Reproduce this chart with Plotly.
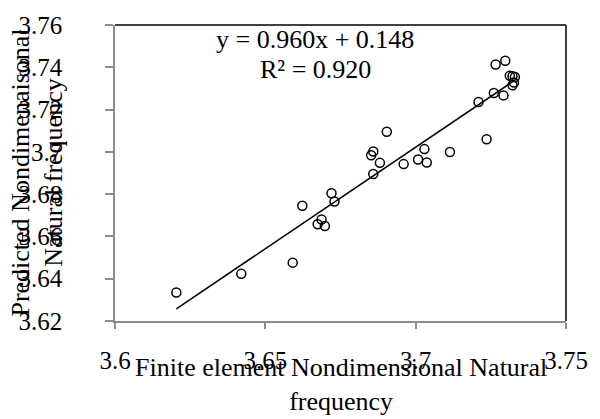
import numpy as np
import plotly.graph_objects as go

x_fe = [3.6204, 3.6420, 3.6591, 3.6623, 3.6674, 3.6687, 3.6698, 3.6720, 3.6730, 3.6852,
        3.6859, 3.6859, 3.6881, 3.6904, 3.6960, 3.7008, 3.7029, 3.7037, 3.7114, 3.7209,
        3.7236, 3.7260, 3.7266, 3.7298, 3.7292, 3.7313, 3.7322, 3.7330, 3.7322, 3.7327]
y_pred = [3.6335, 3.6423, 3.6476, 3.6745, 3.6658, 3.6680, 3.6649, 3.6804, 3.6765, 3.6984,
          3.7002, 3.6895, 3.6948, 3.7095, 3.6942, 3.6964, 3.7013, 3.6950, 3.6999, 3.7236,
          3.7060, 3.7278, 3.7413, 3.7431, 3.7267, 3.7360, 3.7358, 3.7354, 3.7315, 3.7328]

x_tickvals = [3.6, 3.65, 3.7, 3.75]
x_ticktext = ["3.6", "3.65", "3.7", "3.75"]
y_tickvals = [3.62, 3.64, 3.66, 3.68, 3.70, 3.72, 3.74, 3.76]
y_ticktext = ["3.62", "3.64", "3.66", "3.68", "3.7", "3.72", "3.74", "3.76"]

eq_text = "y = 0.960x + 0.148"
r2_text = "R² = 0.920"
x_title = "Finite element Nondimensional Natural<br>frequency"
y_title = "Predicted Nondimenaisonal<br>Natural frequency"

FONT = "Liberation Serif, Times New Roman, serif"
TXT = 26
TICK = 25

coef = np.polyfit(x_fe, y_pred, 1)
x_line = np.array([min(x_fe), max(x_fe)])
y_line = np.polyval(coef, x_line)

fig = go.Figure()
fig.add_trace(go.Scatter(x=x_line, y=y_line, mode="lines",
                         line=dict(color="black", width=1.5), showlegend=False,
                         hoverinfo="skip"))
fig.add_trace(go.Scatter(x=x_fe, y=y_pred, mode="markers",
                         marker=dict(symbol="circle-open", size=9, color="black",
                                     line=dict(width=1.5, color="black")),
                         showlegend=False))

axis_col = "#8c8c8c"
fig.update_layout(
    width=600, height=419,
    margin=dict(l=115, r=25, t=19, b=98),
    paper_bgcolor="white", plot_bgcolor="white",
    font=dict(family=FONT, size=TXT, color="black"),
    xaxis=dict(range=[3.6, 3.75], tickvals=x_tickvals, ticktext=x_ticktext,
               showgrid=False, zeroline=False, showline=True, linecolor=axis_col,
               linewidth=1.5, ticks="outside", ticklen=6, tickcolor=axis_col,
               tickwidth=1.5, ticklabelstandoff=10,
               tickfont=dict(family=FONT, size=TICK, color="black")),
    yaxis=dict(range=[3.62, 3.76], tickvals=y_tickvals, ticktext=y_ticktext,
               showgrid=False, zeroline=False, showline=True, linecolor=axis_col,
               linewidth=1.5, ticks="outside", ticklen=8, tickcolor=axis_col,
               tickwidth=1.5, ticklabelstandoff=38,
               tickfont=dict(family=FONT, size=TICK, color="black")),
    shapes=[
        dict(type="line", xref="paper", yref="paper", x0=0, x1=1, y0=1, y1=1,
             line=dict(color="black", width=1.5), layer="below"),
        dict(type="line", xref="paper", yref="paper", x0=1, x1=1, y0=0, y1=1,
             line=dict(color="black", width=1.5), layer="below"),
    ],
    annotations=[
        dict(text=eq_text, xref="paper", yref="paper", x=0.4435, y=0.952,
             xanchor="center", yanchor="middle", showarrow=False,
             font=dict(family=FONT, size=TXT, color="black")),
        dict(text=r2_text, xref="paper", yref="paper", x=0.4435, y=0.851,
             xanchor="center", yanchor="middle", showarrow=False,
             font=dict(family=FONT, size=TXT, color="black")),
        dict(text=x_title, xref="paper", yref="paper", x=0.5, y=-0.215,
             xanchor="center", yanchor="middle", showarrow=False,
             font=dict(family=FONT, size=TXT, color="black")),
        dict(text=y_title, xref="paper", yref="paper", x=-0.1739, y=0.5,
             xanchor="center", yanchor="middle", showarrow=False, textangle=-90,
             font=dict(family=FONT, size=TXT, color="black")),
    ],
)

fig.write_html("out.html")
